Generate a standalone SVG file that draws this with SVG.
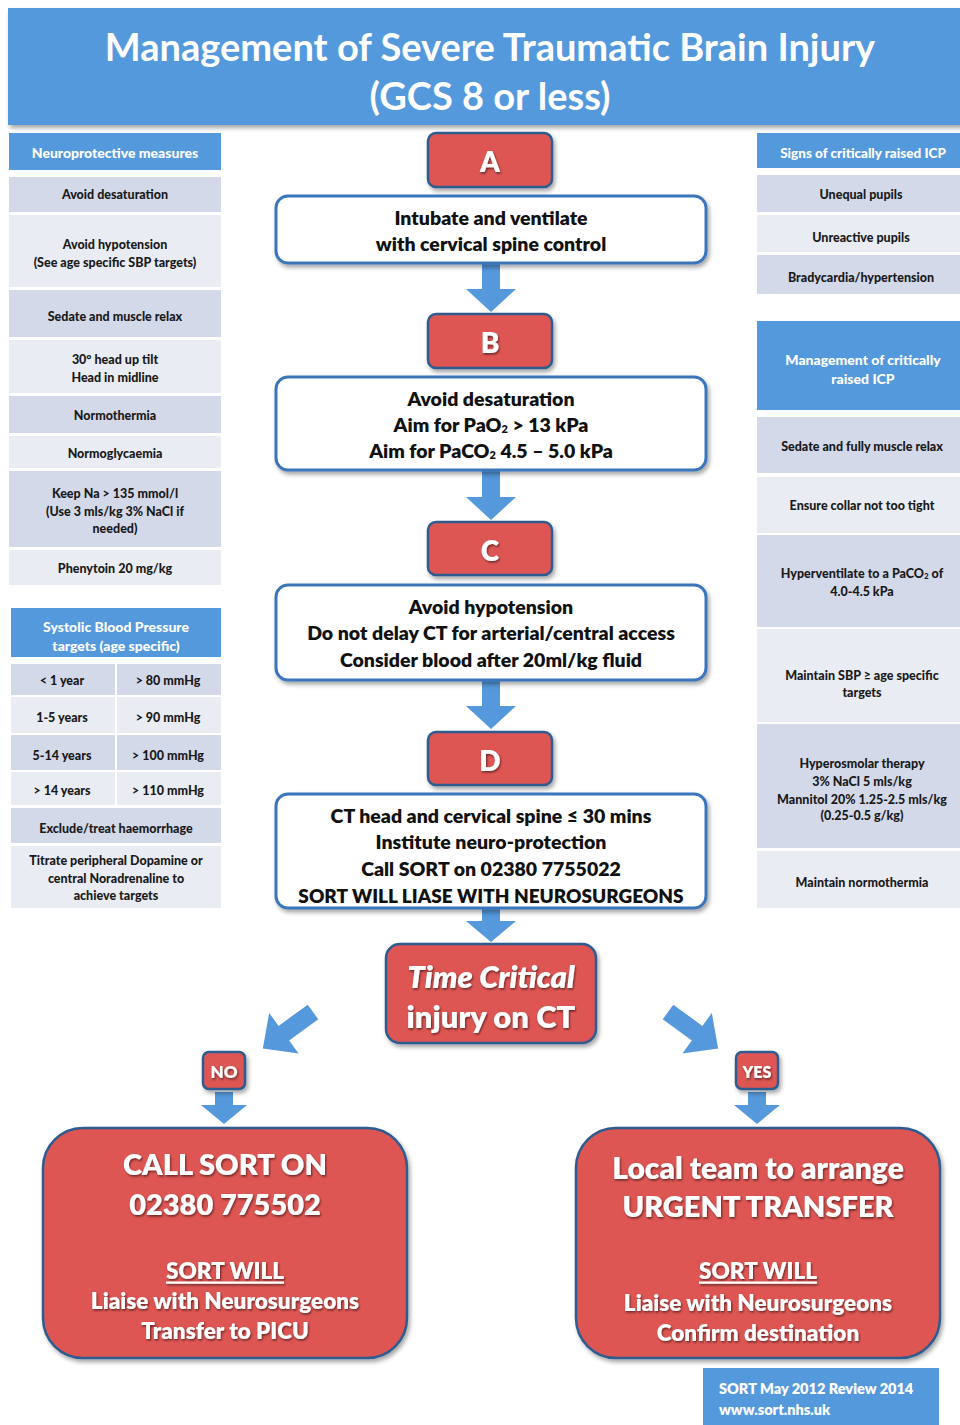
<svg xmlns="http://www.w3.org/2000/svg" width="960" height="1425" viewBox="0 0 960 1425">
<style>
.hdr{fill:#5599dd}
.d{fill:#d4d9ea}
.l{fill:#e9ecf3}
.t{font-family:Lato,"Liberation Sans",sans-serif;font-weight:900;font-size:12.5px;fill:#1a1a1a;text-anchor:middle;dominant-baseline:central}
.th{fill:#fff;font-size:14px}
.red{fill:#de5653;stroke:#2e5c8f;stroke-width:2.5}
.wbox{fill:#fff;stroke:#3b76bd;stroke-width:3}
.ct{font-size:19.5px;fill:#111;font-weight:800}
.wt{fill:#fff;font-weight:800}
.arr{fill:#5598db}
</style>
<defs>
<filter id="sh" x="-10%" y="-10%" width="130%" height="140%">
<feDropShadow dx="2" dy="3" stdDeviation="2" flood-color="#000" flood-opacity="0.35"/>
</filter>
<filter id="ts" x="-5%" y="-20%" width="110%" height="150%">
<feDropShadow dx="1" dy="1.5" stdDeviation="0.8" flood-color="#000" flood-opacity="0.55"/>
</filter>
<path id="ar" d="M0,-9 L36,-9 L36,-25 L62,0 L36,25 L36,9 L0,9 Z"/>
</defs>

<g id="title">
<rect x="8" y="8" width="960" height="117" class="hdr" filter="url(#sh)"/>
<text x="490" y="46" class="t wt" style="font-size:38px;font-weight:700">Management of Severe Traumatic Brain Injury</text>
<text x="490" y="95" class="t wt" style="font-size:38px;font-weight:700">(GCS 8 or less)</text>
</g>

<g id="neuroprotective">
<rect x="9" y="133" width="212" height="37" class="hdr"/>
<text x="115" y="152" class="t th">Neuroprotective measures</text>
<rect x="9" y="177" width="212" height="35" class="d"/>
<text x="115" y="194" class="t">Avoid desaturation</text>
<rect x="9" y="215" width="212" height="72" class="l"/>
<text x="115" y="244" class="t">Avoid hypotension</text>
<text x="115" y="262" class="t">(See age specific SBP targets)</text>
<rect x="9" y="290" width="212" height="47" class="d"/>
<text x="115" y="316" class="t">Sedate and muscle relax</text>
<rect x="9" y="340" width="212" height="53" class="l"/>
<text x="115" y="359" class="t">30° head up tilt</text>
<text x="115" y="377" class="t">Head in midline</text>
<rect x="9" y="396" width="212" height="37" class="d"/>
<text x="115" y="415" class="t">Normothermia</text>
<rect x="9" y="436" width="212" height="32" class="l"/>
<text x="115" y="453" class="t">Normoglycaemia</text>
<rect x="9" y="471" width="212" height="76" class="d"/>
<text x="115" y="493" class="t">Keep Na &gt; 135 mmol/l</text>
<text x="115" y="511" class="t">(Use 3 mls/kg 3% NaCl if</text>
<text x="115" y="528" class="t">needed)</text>
<rect x="9" y="550" width="212" height="35" class="l"/>
<text x="115" y="568" class="t">Phenytoin 20 mg/kg</text>
</g>

<g id="sbp-targets">
<rect x="11" y="608" width="210" height="49" class="hdr"/>
<text x="116" y="626" class="t th">Systolic Blood Pressure</text>
<text x="116" y="645" class="t th">targets (age specific)</text>
<rect x="11" y="664" width="104" height="31" class="d"/>
<rect x="117" y="664" width="104" height="31" class="d"/>
<text x="62" y="680" class="t">&lt; 1 year</text>
<text x="168" y="680" class="t">&gt; 80 mmHg</text>
<rect x="11" y="697" width="104" height="36" class="l"/>
<rect x="117" y="697" width="104" height="36" class="l"/>
<text x="62" y="717" class="t">1-5 years</text>
<text x="168" y="717" class="t">&gt; 90 mmHg</text>
<rect x="11" y="735" width="104" height="35" class="d"/>
<rect x="117" y="735" width="104" height="35" class="d"/>
<text x="62" y="755" class="t">5-14 years</text>
<text x="168" y="755" class="t">&gt; 100 mmHg</text>
<rect x="11" y="772" width="104" height="33" class="l"/>
<rect x="117" y="772" width="104" height="33" class="l"/>
<text x="62" y="790" class="t">&gt; 14 years</text>
<text x="168" y="790" class="t">&gt; 110 mmHg</text>
<rect x="11" y="808" width="210" height="35" class="d"/>
<text x="116" y="828" class="t">Exclude/treat haemorrhage</text>
<rect x="11" y="846" width="210" height="62" class="l"/>
<text x="116" y="860" class="t">Titrate peripheral Dopamine or</text>
<text x="116" y="878" class="t">central Noradrenaline to</text>
<text x="116" y="895" class="t">achieve targets</text>
</g>

<g id="icp-signs">
<rect x="757" y="133" width="203" height="35" class="hdr"/>
<text x="863" y="153" class="t th" style="font-size:13.5px">Signs of critically raised ICP</text>
<rect x="757" y="175" width="203" height="37" class="d"/>
<text x="861" y="194" class="t">Unequal pupils</text>
<rect x="757" y="215" width="203" height="37" class="l"/>
<text x="861" y="237" class="t">Unreactive pupils</text>
<rect x="757" y="255" width="203" height="39" class="d"/>
<text x="861" y="277" class="t">Bradycardia/hypertension</text>
</g>

<g id="icp-management">
<rect x="757" y="321" width="203" height="89" class="hdr"/>
<text x="863" y="359" class="t th">Management of critically</text>
<text x="863" y="378" class="t th">raised ICP</text>
<rect x="757" y="417" width="203" height="56" class="d"/>
<text x="862" y="446" class="t">Sedate and fully muscle relax</text>
<rect x="757" y="477" width="203" height="56" class="l"/>
<text x="862" y="505" class="t">Ensure collar not too tight</text>
<rect x="757" y="535" width="203" height="92" class="d"/>
<text x="862" y="573" class="t">Hyperventilate to a PaCO<tspan dy="3" style="font-size:8px">2</tspan><tspan dy="-3"> of</tspan></text>
<text x="862" y="591" class="t">4.0-4.5 kPa</text>
<rect x="757" y="629" width="203" height="93" class="l"/>
<text x="862" y="675" class="t">Maintain SBP ≥ age specific</text>
<text x="862" y="692" class="t">targets</text>
<rect x="757" y="724" width="203" height="124" class="d"/>
<text x="862" y="763" class="t">Hyperosmolar therapy</text>
<text x="862" y="781" class="t">3% NaCl 5 mls/kg</text>
<text x="862" y="799" class="t">Mannitol 20% 1.25-2.5 mls/kg</text>
<text x="862" y="815" class="t">(0.25-0.5 g/kg)</text>
<rect x="757" y="851" width="203" height="57" class="l"/>
<text x="862" y="882" class="t">Maintain normothermia</text>
</g>

<g id="connectors">
<path class="arr" d="M482,264 L500,264 L500,289 L516,289 L491,312 L466,289 L482,289 Z"/>
<path class="arr" d="M482,471 L500,471 L500,497 L516,497 L491,520 L466,497 L482,497 Z"/>
<path class="arr" d="M482,681 L500,681 L500,706 L516,706 L491,729 L466,706 L482,706 Z"/>
<path class="arr" d="M482,909 L500,909 L500,921 L516,921 L491,942 L466,921 L482,921 Z"/>
<use href="#ar" class="arr" transform="translate(313,1012) rotate(144)"/>
<use href="#ar" class="arr" transform="translate(668,1012) rotate(36)"/>
<path class="arr" d="M215,1092 L233,1092 L233,1105 L247,1105 L224,1124 L201,1105 L215,1105 Z"/>
<path class="arr" d="M748,1092 L766,1092 L766,1105 L780,1105 L757,1124 L734,1105 L748,1105 Z"/>
</g>

<g id="step-a">
<rect x="428" y="133" width="124" height="54" rx="8" class="red" filter="url(#sh)"/>
<text x="490" y="161" class="t wt" style="font-size:28px" filter="url(#ts)">A</text>
</g>
<g id="box-a">
<rect x="276" y="196" width="430" height="67" rx="12" class="wbox" filter="url(#sh)"/>
<text x="491" y="217" class="t ct">Intubate and ventilate</text>
<text x="491" y="243" class="t ct">with cervical spine control</text>
</g>

<g id="step-b">
<rect x="428" y="314" width="124" height="54" rx="8" class="red" filter="url(#sh)"/>
<text x="490" y="342" class="t wt" style="font-size:28px" filter="url(#ts)">B</text>
</g>
<g id="box-b">
<rect x="276" y="377" width="430" height="93" rx="12" class="wbox" filter="url(#sh)"/>
<text x="491" y="398" class="t ct">Avoid desaturation</text>
<text x="491" y="424" class="t ct">Aim for PaO<tspan dy="4" style="font-size:11px">2</tspan><tspan dy="-4"> &gt; 13 kPa</tspan></text>
<text x="491" y="450" class="t ct">Aim for PaCO<tspan dy="4" style="font-size:11px">2</tspan><tspan dy="-4"> 4.5 – 5.0 kPa</tspan></text>
</g>

<g id="step-c">
<rect x="428" y="522" width="124" height="53" rx="8" class="red" filter="url(#sh)"/>
<text x="490" y="550" class="t wt" style="font-size:28px" filter="url(#ts)">C</text>
</g>
<g id="box-c">
<rect x="276" y="585" width="430" height="95" rx="12" class="wbox" filter="url(#sh)"/>
<text x="491" y="606" class="t ct">Avoid hypotension</text>
<text x="491" y="632" class="t ct">Do not delay CT for arterial/central access</text>
<text x="491" y="659" class="t ct">Consider blood after 20ml/kg fluid</text>
</g>

<g id="step-d">
<rect x="428" y="732" width="124" height="53" rx="8" class="red" filter="url(#sh)"/>
<text x="490" y="760" class="t wt" style="font-size:28px" filter="url(#ts)">D</text>
</g>
<g id="box-d">
<rect x="276" y="794" width="430" height="114" rx="12" class="wbox" filter="url(#sh)"/>
<text x="491" y="815" class="t ct">CT head and cervical spine ≤ 30 mins</text>
<text x="491" y="841" class="t ct">Institute neuro-protection</text>
<text x="491" y="868" class="t ct">Call SORT on 02380 7755022</text>
<text x="491" y="895" class="t ct" style="font-size:19px">SORT WILL LIASE WITH NEUROSURGEONS</text>
</g>

<g id="time-critical">
<rect x="386" y="944" width="210" height="99" rx="14" class="red" filter="url(#sh)"/>
<text x="491" y="976" class="t wt" style="font-size:31px;font-style:italic" filter="url(#ts)">Time Critical</text>
<text x="491" y="1016" class="t wt" style="font-size:31px" filter="url(#ts)">injury on CT</text>
</g>

<g id="no">
<rect x="203" y="1052" width="42" height="37" rx="6" class="red" filter="url(#sh)"/>
<text x="224" y="1071" class="t wt" style="font-size:17px" filter="url(#ts)">NO</text>
</g>
<g id="yes">
<rect x="736" y="1052" width="42" height="37" rx="6" class="red" filter="url(#sh)"/>
<text x="757" y="1071" class="t wt" style="font-size:16px" filter="url(#ts)">YES</text>
</g>

<g id="call-sort">
<rect x="43" y="1128" width="364" height="230" rx="40" class="red" filter="url(#sh)"/>
<text x="225" y="1163" class="t wt" style="font-size:29px" filter="url(#ts)">CALL SORT ON</text>
<text x="225" y="1203" class="t wt" style="font-size:29px" filter="url(#ts)">02380 775502</text>
<text x="225" y="1270" class="t wt" style="font-size:22.5px;text-decoration:underline" filter="url(#ts)">SORT WILL</text>
<text x="225" y="1300" class="t wt" style="font-size:22.5px" filter="url(#ts)">Liaise with Neurosurgeons</text>
<text x="225" y="1330" class="t wt" style="font-size:22.5px" filter="url(#ts)">Transfer to PICU</text>
</g>

<g id="urgent-transfer">
<rect x="576" y="1128" width="364" height="230" rx="40" class="red" filter="url(#sh)"/>
<text x="758" y="1167" class="t wt" style="font-size:30px" filter="url(#ts)">Local team to arrange</text>
<text x="758" y="1205" class="t wt" style="font-size:29px" filter="url(#ts)">URGENT TRANSFER</text>
<text x="758" y="1270" class="t wt" style="font-size:22.5px;text-decoration:underline" filter="url(#ts)">SORT WILL</text>
<text x="758" y="1302" class="t wt" style="font-size:22.5px" filter="url(#ts)">Liaise with Neurosurgeons</text>
<text x="758" y="1332" class="t wt" style="font-size:22.5px" filter="url(#ts)">Confirm destination</text>
</g>

<g id="footer">
<rect x="703" y="1368" width="236" height="57" class="hdr"/>
<text x="719" y="1394" style="font-family:Lato,'Liberation Sans',sans-serif;font-weight:800;font-size:14.5px;fill:#fff">SORT May 2012 Review 2014</text>
<text x="719" y="1415" style="font-family:Lato,'Liberation Sans',sans-serif;font-weight:800;font-size:14.5px;fill:#fff">www.sort.nhs.uk</text>
</g>
</svg>
